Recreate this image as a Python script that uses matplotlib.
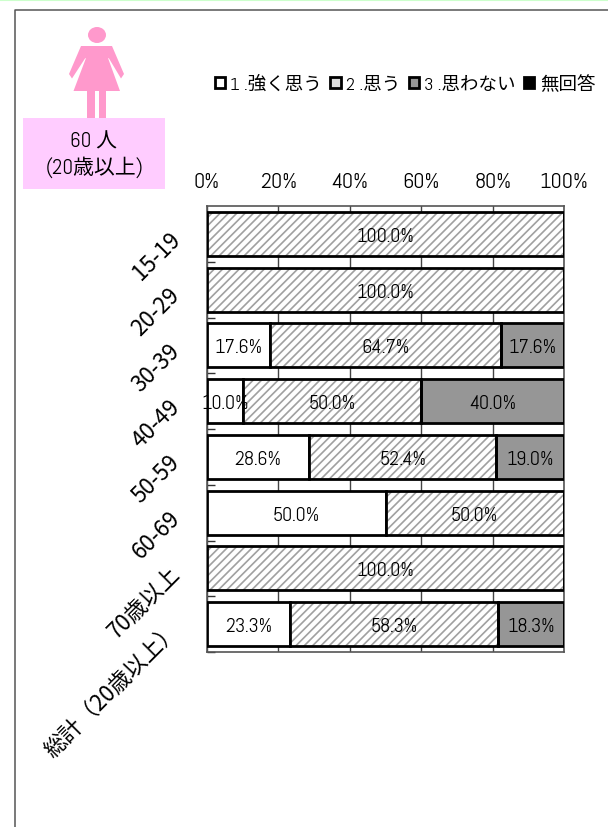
import numpy as np
import matplotlib
matplotlib.use("Agg")
import matplotlib.pyplot as plt
from matplotlib.patches import Polygon, Rectangle, Ellipse

plt.rcParams['font.family'] = ['Abel', 'Noto Sans CJK JP', 'DejaVu Sans']
plt.rcParams['hatch.linewidth'] = 1.2

# data
categories = ["15-19", "20-29", "30-39", "40-49", "50-59", "60-69", "70歳以上", "総計（20歳以上）"]
tsuyoku = [0, 0, 17.6, 10.0, 28.6, 50.0, 0, 23.3]
omou = [100.0, 100.0, 64.7, 50.0, 52.4, 50.0, 100.0, 58.3]
omowanai = [0, 0, 17.6, 40.0, 19.0, 0, 0, 18.3]
mukaitou = [0, 0, 0, 0, 0, 0, 0, 0]
legend_labels = ["1 .強く思う", "2 .思う", "3 .思わない", "無回答"]
xticks = [0, 20, 40, 60, 80, 100]

W, H = 608, 828
fig = plt.figure(figsize=(W / 100, H / 100), dpi=100)

# background layer in pixel coords: frame, person icon, pink box
bg = fig.add_axes([0, 0, 1, 1], zorder=0)
bg.set_xlim(0, W)
bg.set_ylim(H, 0)
bg.axis("off")
bg.plot([0, W], [0.5, 0.5], color="#CCFFCC", lw=1.5)
bg.plot([14.5, 14.5, W], [H, 11, 11], color="#555555", lw=1.1)
pink = "#FF99CC"
bg.add_patch(Ellipse((97, 36), 18, 16, color=pink, lw=0))
bg.add_patch(Polygon([(81, 47), (69, 75), (72, 79.5), (85, 59.5), (86, 59), (73.5, 92), (120, 92), (108, 59),
                      (109, 59.5), (121, 79.5), (124, 75), (112, 47)], closed=True, color=pink, lw=0))
bg.add_patch(Rectangle((87, 90), 8, 30, color=pink, lw=0))
bg.add_patch(Rectangle((99, 90), 7, 30, color=pink, lw=0))
bg.add_patch(Rectangle((23, 119), 142, 71, color="#FFCCFF", lw=0))
bg.text(94, 142, "60 人", ha="center", va="center", fontsize=15, color="black")
bg.text(95, 167, "(20歳以上)", ha="center", va="center", fontsize=15, color="black")

ax = fig.add_axes([207 / W, 1 - 653 / H, (564 - 207) / W, (653 - 207) / H], zorder=2)
ax.patch.set_alpha(0)
y = np.arange(len(categories))
bar_h = 0.79
edge_lw = 2.0

left = np.zeros(len(categories))
series = [tsuyoku, omou, omowanai, mukaitou]
fills = ["white", "white", "#969696", "black"]
for i, vals in enumerate(series):
    vals = np.array(vals, dtype=float)
    if i == 1:
        ax.barh(y, vals, bar_h, left=left, color="white", edgecolor="#A0A0A0", hatch="////", lw=0, zorder=3)
        ax.barh(y, vals, bar_h, left=left, fill=False, edgecolor="black", lw=edge_lw, zorder=4)
    else:
        ax.barh(y, vals, bar_h, left=left, color=fills[i], edgecolor="black", lw=edge_lw, zorder=3)
    for j, v in enumerate(vals):
        if v > 0:
            ax.annotate("%.1f%%" % v, xy=(left[j] + v / 2, y[j]), xytext=(0, -1.5), textcoords="offset points",
                        ha="center", va="center", fontsize=14.5, color="black", zorder=6)
    left = left + vals

ax.set_xlim(0, 100)
ax.set_ylim(len(categories) - 0.5, -0.5)
ax.xaxis.tick_top()
ax.set_xticks(xticks)
ax.set_xticklabels(["%d%%" % t for t in xticks], fontsize=16)
ax.tick_params(axis="x", length=0, pad=11)
ax.set_yticks(y + 0.5, minor=False)
ax.set_yticklabels([""] * len(y))
ax.tick_params(axis="y", direction="in", length=6, width=1, color="#333333")
ax.grid(axis="x", color="#444444", lw=1, zorder=1)
ax.set_axisbelow(True)
for name, sp in ax.spines.items():
    sp.set_color("#555555")
    sp.set_linewidth(1.2)

for j, c in enumerate(categories):
    ax.annotate(c, xy=(0, y[j]), xytext=(-22, -1), textcoords="offset points", xycoords=("data", "data"),
                rotation=45, rotation_mode="anchor", ha="right", va="center", fontsize=16,
                family=['Noto Sans CJK JP', 'DejaVu Sans'], annotation_clip=False)

# legend
hs = [Rectangle((0, 0), 1, 1, facecolor="white", edgecolor="black", lw=2),
      Rectangle((0, 0), 1, 1, facecolor="#DDDDDD", edgecolor="black", lw=2),
      Rectangle((0, 0), 1, 1, facecolor="#969696", edgecolor="black", lw=2),
      Rectangle((0, 0), 1, 1, facecolor="black", edgecolor="black", lw=2)]
fig.legend(hs, legend_labels, ncol=4, frameon=False, fontsize=13.3, handlelength=0.55, handleheight=0.55,
           handletextpad=0.3, columnspacing=0.45, borderpad=0, borderaxespad=0,
           loc="center", bbox_to_anchor=(405 / W, 1 - 85 / H))

fig.savefig("out.png", dpi=100)
